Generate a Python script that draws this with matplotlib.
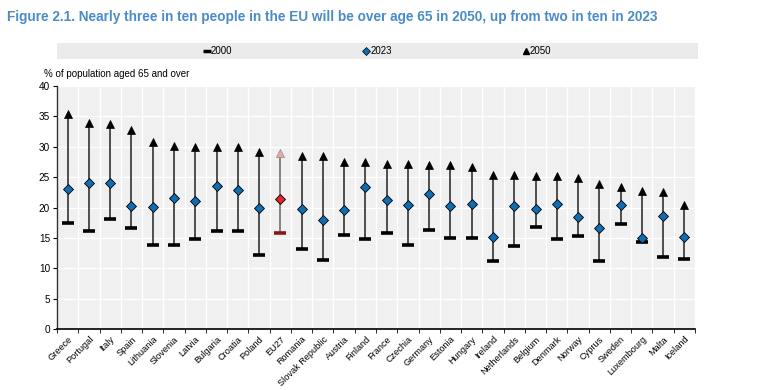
import numpy as np
import matplotlib
matplotlib.use("Agg")
import matplotlib.pyplot as plt
from matplotlib.lines import Line2D

plt.rcParams['font.family'] = ['Liberation Sans Narrow', 'Liberation Sans', 'DejaVu Sans']

# data
countries = ["Greece", "Portugal", "Italy", "Spain", "Lithuania", "Slovenia", "Latvia",
             "Bulgaria", "Croatia", "Poland", "EU27", "Romania", "Slovak Republic",
             "Austria", "Finland", "France", "Czechia", "Germany", "Estonia", "Hungary",
             "Ireland", "Netherlands", "Belgium", "Denmark", "Norway", "Cyprus",
             "Sweden", "Luxembourg", "Malta", "Iceland"]
v2000 = [17.4, 16.1, 18.1, 16.6, 13.75, 13.9, 14.85, 16.2, 16.1, 12.2, 15.8, 13.2, 11.4,
         15.45, 14.8, 15.8, 13.9, 16.3, 14.9, 15.0, 11.2, 13.6, 16.8, 14.85, 15.3, 11.2,
         17.3, 14.3, 11.9, 11.6]
v2023 = [23.0, 24.0, 24.05, 20.2, 20.05, 21.5, 21.0, 23.5, 22.8, 19.95, 21.4, 19.7, 17.9,
         19.6, 23.3, 21.3, 20.4, 22.2, 20.3, 20.6, 15.2, 20.2, 19.7, 20.5, 18.5, 16.7,
         20.4, 14.9, 18.6, 15.1]
v2050 = [35.4, 33.9, 33.75, 32.7, 30.8, 30.2, 30.0, 30.0, 30.0, 29.1, 29.0, 28.5, 28.4,
         27.5, 27.45, 27.2, 27.1, 27.0, 27.0, 26.7, 25.3, 25.4, 25.2, 25.2, 24.8, 23.8,
         23.3, 22.7, 22.5, 20.4]

blue = "#0f6db3"
title_col = "#4a8cc8"

fig = plt.figure(figsize=(7.58, 3.90), dpi=100)
ax = fig.add_axes([57 / 758, 1 - 329 / 390, 638 / 758, 243 / 390])

x = np.arange(len(countries))
ax.set_facecolor("#f0f0f0")

for i, c in enumerate(countries):
    eu = c == "EU27"
    ax.plot([x[i], x[i]], [v2000[i], v2050[i]], color="#666666" if eu else "#222222",
            lw=1.1, zorder=2)
    ax.plot(x[i], v2000[i], marker="_", ms=8.5, mew=2.6,
            color="#8b1a1a" if eu else "black", zorder=3)
    ax.plot(x[i], v2050[i], marker="^", ms=6.2,
            color="#f2a7a7" if eu else "black", mec="#888888" if eu else "black",
            mew=0.5, zorder=3)
    ax.plot(x[i], v2023[i], marker="D", ms=5.6, color="#e3262b" if eu else blue,
            mec="black", mew=0.6, zorder=4)

ax.set_xlim(-0.5, len(countries) - 0.5)
ax.set_ylim(0, 40)
ax.set_yticks(np.arange(0, 41, 5))
ax.set_xticks(x)
ax.set_xticklabels(countries, rotation=45, ha="right", rotation_mode="anchor", fontsize=6.6)
ax.set_xticks(np.arange(-0.5, len(countries), 1), minor=True)
ax.tick_params(axis="x", which="major", length=0, pad=4)
ax.tick_params(axis="x", which="minor", length=3, color="black", direction="out")
ax.tick_params(axis="y", labelsize=7.2, length=3, color="black", pad=2)

ax.grid(True, which="minor", axis="x", color="white", lw=1)
ax.grid(True, which="major", axis="y", color="white", lw=1)
ax.set_axisbelow(True)
for s in ["top", "right"]:
    ax.spines[s].set_visible(False)
ax.spines["left"].set_color("#333333")
ax.spines["bottom"].set_color("black")
ax.spines["left"].set_linewidth(1)
ax.spines["bottom"].set_linewidth(1.2)

# title, legend strip, y label
fig.text(7 / 758, 1 - 17 / 390, "Figure 2.1. Nearly three in ten people in the EU will be over age 65 in 2050, "
         "up from two in ten in 2023", color=title_col, fontsize=9.8, fontweight="bold",
         va="center", ha="left")

lax = fig.add_axes([57 / 758, 1 - 59 / 390, 641 / 758, 16 / 390])
lax.set_facecolor("#ebebeb")
lax.set_xticks([])
lax.set_yticks([])
for s in lax.spines.values():
    s.set_visible(False)
handles = [Line2D([], [], ls="none", marker="_", ms=6, mew=2.5, color="black"),
           Line2D([], [], ls="none", marker="D", ms=4, color=blue, mec="black", mew=0.5),
           Line2D([], [], ls="none", marker="^", ms=5, color="black")]
lax.legend(handles, ["2000", "2023", "2050"], loc="center", ncol=3, frameon=False,
           fontsize=7, handlelength=0.6, handletextpad=0.1, columnspacing=13.5,
           borderpad=0)

fig.text(44 / 758, 1 - 74 / 390, "% of population aged 65 and over", fontsize=7,
         va="center", ha="left")

fig.savefig("out.png", dpi=100)
